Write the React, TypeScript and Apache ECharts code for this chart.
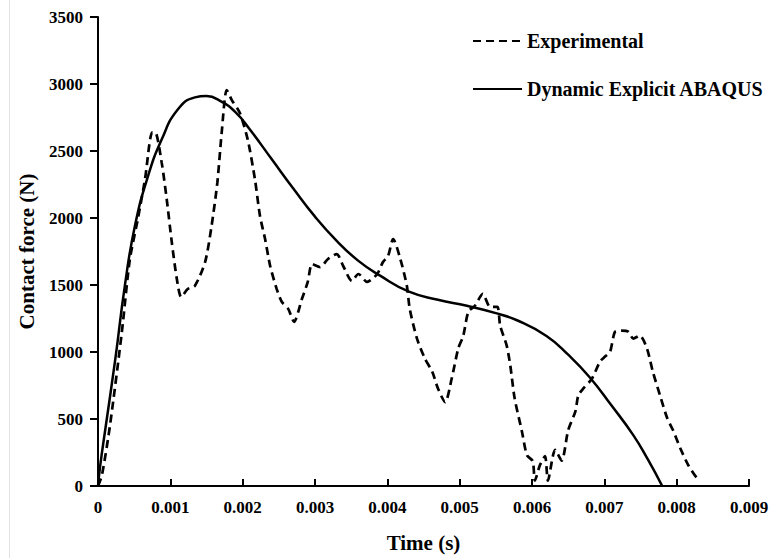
import React, { useEffect, useRef } from "react";
import * as echarts from "echarts";

const xTicks = [0, 0.001, 0.002, 0.003, 0.004, 0.005, 0.006, 0.007, 0.008, 0.009];
const yTicks = [0, 500, 1000, 1500, 2000, 2500, 3000, 3500];

const seriesNames = ["Experimental", "Dynamic Explicit ABAQUS"];

const expTime = [
  0, 0.000055, 0.000166, 0.00033, 0.00044, 0.00055, 0.00065, 0.00075, 0.00079, 0.00088,
  0.00095, 0.00102, 0.00109, 0.00115, 0.00124, 0.00134, 0.00148, 0.00157, 0.00165, 0.00171,
  0.00178, 0.00185, 0.00196, 0.00207, 0.00217, 0.00224, 0.00231, 0.00238, 0.00247, 0.00254,
  0.00263, 0.00271, 0.00282, 0.0029, 0.00296, 0.00307, 0.00318, 0.0033, 0.00339, 0.00351,
  0.0036, 0.00372, 0.00386, 0.00394, 0.00401, 0.00408, 0.00418, 0.00427, 0.00431, 0.00441,
  0.00452, 0.00462, 0.0047, 0.0048, 0.00489, 0.00498, 0.00505, 0.00512, 0.00521, 0.00532,
  0.00542, 0.00552, 0.00556, 0.00565, 0.0057, 0.00576, 0.00586, 0.00593, 0.00601, 0.00604,
  0.00611, 0.00618, 0.00622, 0.00632, 0.00641, 0.0065, 0.0066, 0.00664, 0.00671, 0.00683,
  0.00694, 0.00701, 0.00708, 0.00715, 0.00724, 0.00733, 0.0074, 0.00749, 0.00759, 0.00767,
  0.00777, 0.00787, 0.00795, 0.00805, 0.00816, 0.00828, 0.00831,
];
const expForce = [
  0, 82, 453, 1150, 1690, 1990, 2290, 2640, 2640, 2415,
  2140, 1820, 1545, 1410, 1470, 1495, 1670, 1940, 2265, 2637,
  2955, 2880, 2785, 2585, 2288, 2013, 1843, 1642, 1471, 1375,
  1322, 1225, 1397, 1523, 1657, 1634, 1694, 1731, 1642, 1530,
  1582, 1523, 1582, 1672, 1716, 1843, 1694, 1494, 1322, 1100,
  951, 854, 728, 625, 802, 1025, 1122, 1300, 1345, 1434,
  1337, 1337, 1196, 1048, 899, 654, 409, 230, 186, 40,
  156, 223, 40, 270, 190, 416, 557, 676, 728, 802,
  929, 966, 1003, 1152, 1159, 1152, 1100, 1122, 1025, 854,
  676, 505, 416, 282, 156, 59, 52,
];

const simTime = [
  0, 0.00003, 0.0001, 0.00024, 0.00037, 0.00051, 0.00069, 0.00088, 0.0011, 0.00134,
  0.0015, 0.0017, 0.0019, 0.0021, 0.0024, 0.0027, 0.003, 0.0033, 0.0036, 0.0039,
  0.0043, 0.0047, 0.0051, 0.0055, 0.0058, 0.0062, 0.0065, 0.0068, 0.0071, 0.0074,
  0.0076, 0.0078,
];
const simForce = [
  0, 150, 420, 950, 1490, 1940, 2310, 2585, 2808, 2900,
  2910, 2870, 2790, 2660, 2440, 2220, 2010, 1830, 1680, 1570,
  1450, 1390, 1345, 1290, 1235, 1120, 980, 810, 600, 380,
  200, 0,
];

const FONT = "'Liberation Serif', 'Times New Roman', serif";

export default function App() {
  const ref = useRef<HTMLDivElement>(null);
  useEffect(() => {
    if (!ref.current) return;
    const chart = echarts.init(ref.current, undefined, { renderer: "svg" });
    const expData = expTime.map((t, i) => [t, expForce[i]]);
    const simData = simTime.map((t, i) => [t, simForce[i]]);
    chart.setOption({
      animation: false,
      backgroundColor: "#ffffff",
      grid: { left: 98, top: 17, right: 23, bottom: 70, containLabel: false },
      legend: {
        orient: "vertical",
        left: 467,
        top: 26,
        itemWidth: 49,
        itemHeight: 20,
        itemGap: 28,
        data: seriesNames,
        itemStyle: { opacity: 0 },
        textStyle: {
          fontFamily: FONT,
          fontWeight: "bold",
          fontSize: 20,
          color: "#000",
          lineHeight: 20,
        },
      },
      xAxis: {
        type: "value",
        min: xTicks[0],
        max: xTicks[xTicks.length - 1],
        interval: 0.001,
        name: "Time (s)",
        nameLocation: "middle",
        nameGap: 46,
        nameTextStyle: { fontFamily: FONT, fontWeight: "bold", fontSize: 21, color: "#000" },
        axisLine: { onZero: false, lineStyle: { color: "#000", width: 2 } },
        axisTick: { inside: true, length: 7, lineStyle: { color: "#000", width: 2 } },
        axisLabel: {
          margin: 13,
          fontFamily: FONT,
          fontWeight: "bold",
          fontSize: 17,
          color: "#000",
          formatter: (v: number) => (v === 0 ? "0" : v.toFixed(3)),
        },
        splitLine: { show: false },
      },
      yAxis: {
        type: "value",
        min: yTicks[0],
        max: yTicks[yTicks.length - 1],
        interval: 500,
        name: "Contact force (N)",
        nameLocation: "middle",
        nameGap: 61,
        nameTextStyle: { fontFamily: FONT, fontWeight: "bold", fontSize: 21, color: "#000" },
        axisLine: { show: true, lineStyle: { color: "#000", width: 2 } },
        axisTick: { show: true, inside: false, length: 8, lineStyle: { color: "#000", width: 2 } },
        axisLabel: {
          margin: 15,
          fontFamily: FONT,
          fontWeight: "bold",
          fontSize: 17,
          color: "#000",
          formatter: (v: number) => String(v),
        },
        splitLine: { show: false },
      },
      series: [
        {
          name: seriesNames[0],
          type: "line",
          data: expData,
          symbol: "none",
          smooth: 0.25,
          lineStyle: { color: "#000", width: 2.7, type: [8, 5] },
          itemStyle: { color: "#000" },
        },
        {
          name: seriesNames[1],
          type: "line",
          data: simData,
          symbol: "none",
          smooth: true,
          lineStyle: { color: "#000", width: 2.5, type: "solid" },
          itemStyle: { color: "#000" },
        },
      ],
      graphic: [
        {
          type: "line",
          shape: { x1: 9.5, y1: 0, x2: 9.5, y2: 558 },
          style: { stroke: "#e2e2e2", lineWidth: 1 },
          silent: true,
        },
      ],
    });
    return () => chart.dispose();
  }, []);
  return <div ref={ref} style={{ width: 772, height: 558, position: "absolute", left: 0, top: 0 }} />;
}
